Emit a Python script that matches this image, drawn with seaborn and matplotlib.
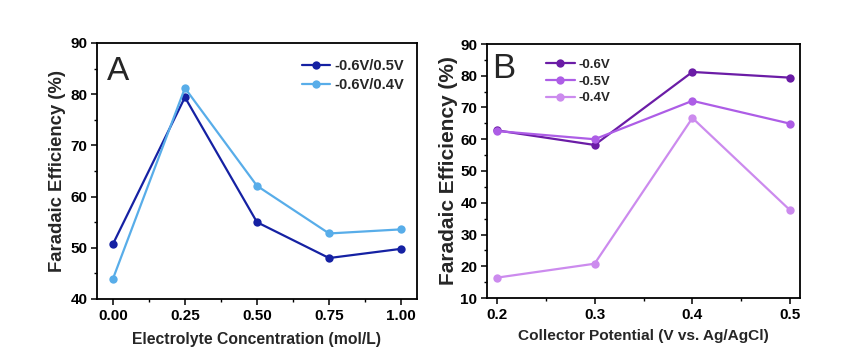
import pandas as pd
import matplotlib.pyplot as plt
import matplotlib.ticker as mticker
import seaborn as sns

# Panel A data
conc = [0.00, 0.25, 0.50, 0.75, 1.00]
fe_06_05 = [50.7, 79.4, 55.0, 48.0, 49.8]
fe_06_04 = [43.9, 81.2, 62.1, 52.8, 53.6]
labels_a = ["-0.6V/0.5V", "-0.6V/0.4V"]

# Panel B data
potential = [0.2, 0.3, 0.4, 0.5]
fe_06 = [62.8, 58.2, 81.2, 79.4]
fe_05 = [62.6, 60.0, 72.1, 64.9]
fe_04 = [16.4, 20.8, 66.7, 37.6]
labels_b = ["-0.6V", "-0.5V", "-0.4V"]

colors_a = ["#1521a3", "#58ade9"]
colors_b = ["#6b1ca6", "#ad5de6", "#cc8bee"]

sns.set_theme(style="ticks")
plt.rcParams["font.family"] = ["Liberation Sans", "DejaVu Sans"]
plt.rcParams["font.weight"] = "bold"
plt.rcParams["axes.labelweight"] = "bold"

df_a = pd.DataFrame({
    "x": conc * 2,
    "y": fe_06_05 + fe_06_04,
    "series": [labels_a[0]] * 5 + [labels_a[1]] * 5,
})
df_b = pd.DataFrame({
    "x": potential * 3,
    "y": fe_06 + fe_05 + fe_04,
    "series": [labels_b[0]] * 4 + [labels_b[1]] * 4 + [labels_b[2]] * 4,
})

fig = plt.figure(figsize=(8.49, 3.62), dpi=100)
ax_a = fig.add_axes([97 / 849, 1 - 299 / 362, 320 / 849, 256 / 362])
ax_b = fig.add_axes([487 / 849, 1 - 298 / 362, 313 / 849, 254 / 362])


def style_axis(ax):
    for sp in ax.spines.values():
        sp.set_color("black")
        sp.set_linewidth(1.3)
    ax.tick_params(which="major", direction="out", length=4, width=1.1,
                   labelsize=11, colors="black", pad=3)
    ax.tick_params(which="minor", direction="out", length=2.5, width=1.0, colors="black")
    for lab in ax.get_xticklabels() + ax.get_yticklabels():
        lab.set_fontweight("bold")


# PANEL A
sns.lineplot(data=df_a, x="x", y="y", hue="series", palette=colors_a,
             marker="o", markersize=6, markeredgewidth=0, linewidth=1.6,
             ax=ax_a)
ax_a.set_xlim(-0.055, 1.055)
ax_a.set_ylim(40, 90)
ax_a.set_xticks(conc)
ax_a.xaxis.set_major_formatter(mticker.FormatStrFormatter("%.2f"))
ax_a.xaxis.set_minor_locator(mticker.MultipleLocator(0.125))
ax_a.yaxis.set_major_locator(mticker.MultipleLocator(10))
ax_a.yaxis.set_minor_locator(mticker.MultipleLocator(5))
ax_a.set_xlabel("Electrolyte Concentration (mol/L)", fontsize=11.3, labelpad=7)
ax_a.set_ylabel("Faradaic Efficiency (%)", fontsize=13.3, labelpad=3)
ax_a.text(0.03, 0.95, "A", transform=ax_a.transAxes, fontsize=24,
          fontweight="normal", va="top", ha="left")
ax_a.legend(title=None, frameon=False, loc="upper right",
            bbox_to_anchor=(1.0, 0.99),
            handlelength=1.9, handletextpad=0.3, labelspacing=0.35,
            prop={"weight": "bold", "size": 10.5})
style_axis(ax_a)

# PANEL B
sns.lineplot(data=df_b, x="x", y="y", hue="series", palette=colors_b,
             marker="o", markersize=6, markeredgewidth=0, linewidth=1.6,
             ax=ax_b)
ax_b.set_xlim(0.19, 0.51)
ax_b.set_ylim(10, 90)
ax_b.set_xticks(potential)
ax_b.xaxis.set_major_formatter(mticker.FormatStrFormatter("%.1f"))
ax_b.xaxis.set_minor_locator(mticker.MultipleLocator(0.05))
ax_b.yaxis.set_major_locator(mticker.MultipleLocator(10))
ax_b.yaxis.set_minor_locator(mticker.MultipleLocator(5))
ax_b.set_xlabel("Collector Potential (V vs. Ag/AgCl)", fontsize=11.1, labelpad=5)
ax_b.set_ylabel("Faradaic Efficiency (%)", fontsize=15, labelpad=2)
ax_b.text(0.015, 0.97, "B", transform=ax_b.transAxes, fontsize=25,
          fontweight="normal", va="top", ha="left")
ax_b.legend(title=None, frameon=False, loc="upper left",
            bbox_to_anchor=(0.15, 0.99),
            handlelength=2.2, handletextpad=0.3, labelspacing=0.35,
            prop={"weight": "bold", "size": 9.5})
style_axis(ax_b)

plt.savefig("out.png", dpi=100)
plt.close()
